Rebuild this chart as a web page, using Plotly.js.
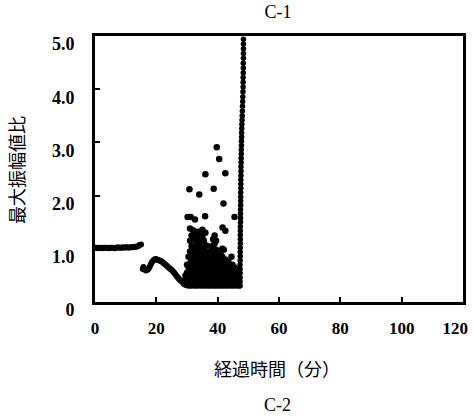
<!DOCTYPE html>
<html>
<head>
<meta charset="utf-8">
<script src="https://cdn.plot.ly/plotly-3.0.1.min.js"></script>
<style>html,body{margin:0;padding:0;background:#fff;}#chart{width:474px;height:419px;}</style>
</head>
<body>
<div id="chart"></div>
<script>
// Segment 1: steady phase (time in minutes, max amplitude ratio)
const steadyTime = [0,0.5,1,1.5,2,2.5,3,3.5,4,4.5,5,5.5,6,6.5,7,7.5,8,8.5,9,9.5,10,10.5,11,11.5,12,12.5,13,13.5,14,14.5,15];
const steadyRatio = [1.02,1.02,1.01,1.02,1.02,1.01,1.02,1.02,1.02,1.01,1.02,1.02,1.02,1.01,1.02,1.03,1.02,1.02,1.03,1.02,1.03,1.03,1.02,1.03,1.03,1.03,1.04,1.04,1.05,1.07,1.08];

// Segment 2: dip and hump
const humpTime = [15.6,15.8,16.2,16.6,17.0,17.4,17.8,18.2,18.6,19.0,19.4,19.8,20.2,20.6,21.0,21.4,21.8,22.2,22.6,23.0,23.4,23.8,24.2,24.6,25.0,25.4,25.8,26.2,26.6,27.0,27.4,27.8,28.2,28.6,29.0];
const humpRatio = [0.62,0.66,0.61,0.59,0.60,0.62,0.66,0.71,0.75,0.78,0.80,0.81,0.80,0.79,0.78,0.77,0.76,0.74,0.72,0.70,0.68,0.66,0.64,0.62,0.60,0.58,0.55,0.52,0.49,0.46,0.43,0.41,0.39,0.37,0.35];

// Segment 3: fluctuating cloud
const cloudTime = [
29.0,29.0,
29.5,29.5,29.5,
30.0,30.0,30.0,30.0,
30.5,30.5,30.5,30.5,30.5,
31.0,31.0,31.0,31.0,31.0,31.0,31.0,
31.5,31.5,31.5,31.5,31.5,31.5,31.5,
32.0,32.0,32.0,32.0,32.0,32.0,32.0,
32.5,32.5,32.5,32.5,32.5,32.5,32.5,
33.0,33.0,33.0,33.0,33.0,33.0,33.0,
33.5,33.5,33.5,33.5,33.5,33.5,33.5,
34.0,34.0,34.0,34.0,34.0,34.0,34.0,
34.5,34.5,34.5,34.5,34.5,34.5,
35.0,35.0,35.0,35.0,35.0,35.0,35.0,
35.5,35.5,35.5,35.5,35.5,35.5,35.5,
36.0,36.0,36.0,36.0,36.0,36.0,
36.5,36.5,36.5,36.5,36.5,
37.0,37.0,37.0,37.0,37.0,
37.5,37.5,37.5,37.5,37.5,
38.0,38.0,38.0,38.0,38.0,38.0,
38.5,38.5,38.5,38.5,38.5,38.5,38.5,
39.0,39.0,39.0,39.0,39.0,39.0,39.0,
39.5,39.5,39.5,39.5,39.5,39.5,39.5,
40.0,40.0,40.0,40.0,40.0,
40.5,40.5,40.5,40.5,40.5,
41.0,41.0,41.0,41.0,41.0,
41.5,41.5,41.5,41.5,41.5,41.5,
42.0,42.0,42.0,42.0,42.0,
42.5,42.5,42.5,42.5,42.5,
43.0,43.0,43.0,43.0,
43.5,43.5,43.5,43.5,43.5,
44.0,44.0,44.0,44.0,
44.5,44.5,44.5,44.5,44.5,
45.0,45.0,45.0,45.0,
45.5,45.5,45.5,45.5,
46.0,46.0,46.0,
46.5,46.5,46.5,46.5,
47.0,47.0,47.0,
29.8,30.3,30.8,31.3,31.8,32.3,32.8,33.3,33.8,34.3,34.8,35.3,35.8,36.3,36.8,37.3,37.8,38.3,38.8,39.3,39.8,40.3,40.8,41.3,41.8,42.3,42.8,43.3,43.8,44.3,44.8,45.3,45.8,46.3,46.8,
30.2,30.8,31.2,32.6,34.0,35.9,36.0,38.7,39.7,40.5,41.6,41.9,42.5,42.5,45.5];
const cloudRatio = [
0.35,0.40,
0.33,0.42,0.50,
0.32,0.42,0.55,0.70,
0.31,0.40,0.52,0.65,0.85,
0.32,0.43,0.55,0.72,0.95,1.15,1.38,
0.31,0.41,0.53,0.66,0.80,1.05,1.25,
0.33,0.44,0.56,0.70,0.90,1.20,1.35,
0.31,0.40,0.50,0.62,0.78,1.00,1.30,
0.32,0.43,0.55,0.68,0.85,1.10,1.25,
0.31,0.42,0.54,0.75,0.95,1.18,1.32,
0.33,0.44,0.58,0.72,0.88,1.05,1.28,
0.31,0.40,0.52,0.64,0.80,1.12,
0.32,0.42,0.55,0.70,0.92,1.22,1.36,
0.31,0.43,0.56,0.68,0.82,1.00,1.15,
0.33,0.45,0.58,0.74,0.90,1.30,
0.31,0.41,0.52,0.66,0.85,
0.32,0.43,0.55,0.70,0.95,
0.31,0.40,0.52,0.64,0.78,
0.33,0.44,0.57,0.72,0.88,1.05,
0.31,0.42,0.55,0.68,0.85,1.02,1.18,
0.32,0.43,0.56,0.70,0.90,1.10,1.25,
0.31,0.41,0.54,0.66,0.82,0.98,1.15,
0.33,0.45,0.58,0.74,0.92,
0.31,0.42,0.55,0.68,0.80,
0.32,0.43,0.56,0.70,0.88,
0.31,0.40,0.52,0.65,0.85,1.00,
0.33,0.44,0.57,0.72,0.98,
0.31,0.42,0.53,0.66,0.80,
0.32,0.43,0.55,0.68,
0.31,0.41,0.52,0.62,0.75,
0.33,0.44,0.56,0.70,
0.31,0.42,0.50,0.62,0.85,
0.32,0.40,0.50,0.60,
0.31,0.42,0.52,0.65,
0.33,0.45,0.55,
0.31,0.40,0.50,0.60,
0.32,0.42,0.55,
0.37,0.48,0.60,0.76,0.61,0.88,0.47,1.08,0.62,0.97,0.49,0.78,0.64,1.06,0.50,0.83,0.63,0.95,0.48,0.77,0.61,0.86,0.47,0.72,0.60,0.48,0.66,0.47,0.58,0.46,0.70,0.45,0.47,0.44,0.46,
1.60,2.12,1.60,1.55,2.02,1.61,2.40,2.13,2.91,2.69,1.40,1.85,2.42,1.34,1.60];

// Segment 4: final rise to failure
const riseTime = [47.3,47.3,47.3,47.3,47.3,47.3,47.35,47.35,47.35,47.35,47.4,47.4,47.4,47.4,47.4,47.45,47.45,47.45,47.45,47.5,47.5,47.5,47.5,47.55,47.55,47.55,47.6,47.6,47.6,47.65,47.65,47.7,47.7,47.75,47.75,47.8,47.8,47.85,47.9,47.95,48.0,48.05,48.1,48.15,48.2,48.25,48.3,48.3,48.3,48.35,48.35,48.35,48.4,48.4,48.4,48.4,48.4];
const riseRatio = [0.30,0.38,0.46,0.54,0.62,0.70,0.78,0.86,0.94,1.02,1.10,1.18,1.26,1.34,1.42,1.50,1.58,1.66,1.74,1.82,1.90,1.98,2.06,2.14,2.22,2.30,2.38,2.46,2.54,2.62,2.70,2.78,2.86,2.94,3.02,3.10,3.18,3.26,3.34,3.42,3.50,3.59,3.68,3.77,3.86,3.95,4.04,4.13,4.22,4.31,4.40,4.49,4.58,4.67,4.76,4.85,4.94];

const xRange = [0,120];
const xTickVals = [0,20,40,60,80,100];
const xTickText = ['0','20','40','60','80','100'];
const xEndTickVals = [120];
const xEndTickText = ['120'];
const yTickVals = [0,1,2,3,4,5];
const yTickText = ['0','1.0','2.0','3.0','4.0','5.0'];

const traces = [
  {x:steadyTime, y:steadyRatio, mode:'markers', marker:{color:'#000', size:6}, type:'scatter'},
  {x:humpTime, y:humpRatio, mode:'markers', marker:{color:'#000', size:6}, type:'scatter'},
  {x:cloudTime, y:cloudRatio, mode:'markers', marker:{color:'#000', size:6.5}, type:'scatter'},
  {x:riseTime, y:riseRatio, mode:'markers', marker:{color:'#000', size:5.5}, type:'scatter', xaxis:'x2'}
];

const serif = {family:'"Liberation Serif", "Times New Roman", serif', color:'#000'};
const cjk = {family:'"Noto Sans CJK JP", sans-serif', color:'#000', size:18};
const tickFontX = Object.assign({}, serif, {size:17, weight:'bold'});

const layout = {
  width:474, height:419,
  margin:{l:95, r:11, t:36, b:117},
  paper_bgcolor:'#fff', plot_bgcolor:'#fff',
  showlegend:false,
  title:{text:'C-1', x:0.497, xref:'paper', xanchor:'center', y:0.971, yref:'container', yanchor:'middle',
         font:Object.assign({}, serif, {size:18})},
  xaxis:{range:xRange, tickvals:xTickVals, ticktext:xTickText, ticks:'inside', ticklen:5, tickwidth:2, tickcolor:'#000',
         showline:true, linewidth:3, linecolor:'#000', mirror:true, showgrid:false, zeroline:false,
         tickfont:tickFontX, ticklabelstandoff:9},
  xaxis2:{range:xRange, overlaying:'x', side:'bottom', anchor:'y', tickvals:xEndTickVals, ticktext:xEndTickText, ticks:'',
          showline:false, showgrid:false, zeroline:false, tickfont:tickFontX, ticklabelstandoff:14,
          ticklabelposition:'outside left', ticklabelshift:5},
  yaxis:{range:[0,5], tickvals:yTickVals, ticktext:yTickText, ticks:'inside', ticklen:5, tickwidth:2, tickcolor:'#000',
         showline:true, linewidth:3, linecolor:'#000', mirror:true, showgrid:false, zeroline:false,
         tickfont:Object.assign({}, serif, {size:18, weight:'bold'}), ticklabelstandoff:14, ticklabelshift:8, ticklabeloverflow:'allow'},
  annotations:[
    {text:'経過時間（分）', xref:'paper', yref:'paper', x:0.495, y:-0.248, xanchor:'center', yanchor:'middle', showarrow:false, font:cjk},
    {text:'C-2', xref:'paper', yref:'paper', x:0.495, y:-0.387, xanchor:'center', yanchor:'middle', showarrow:false, font:Object.assign({}, serif, {size:18})},
    {text:'最大振幅値比', xref:'paper', yref:'paper', x:-0.2147, y:0.496, xanchor:'center', yanchor:'middle', textangle:-90, showarrow:false, font:cjk}
  ]
};

Plotly.newPlot('chart', traces, layout, {staticPlot:true, displayModeBar:false});
</script>
</body>
</html>
